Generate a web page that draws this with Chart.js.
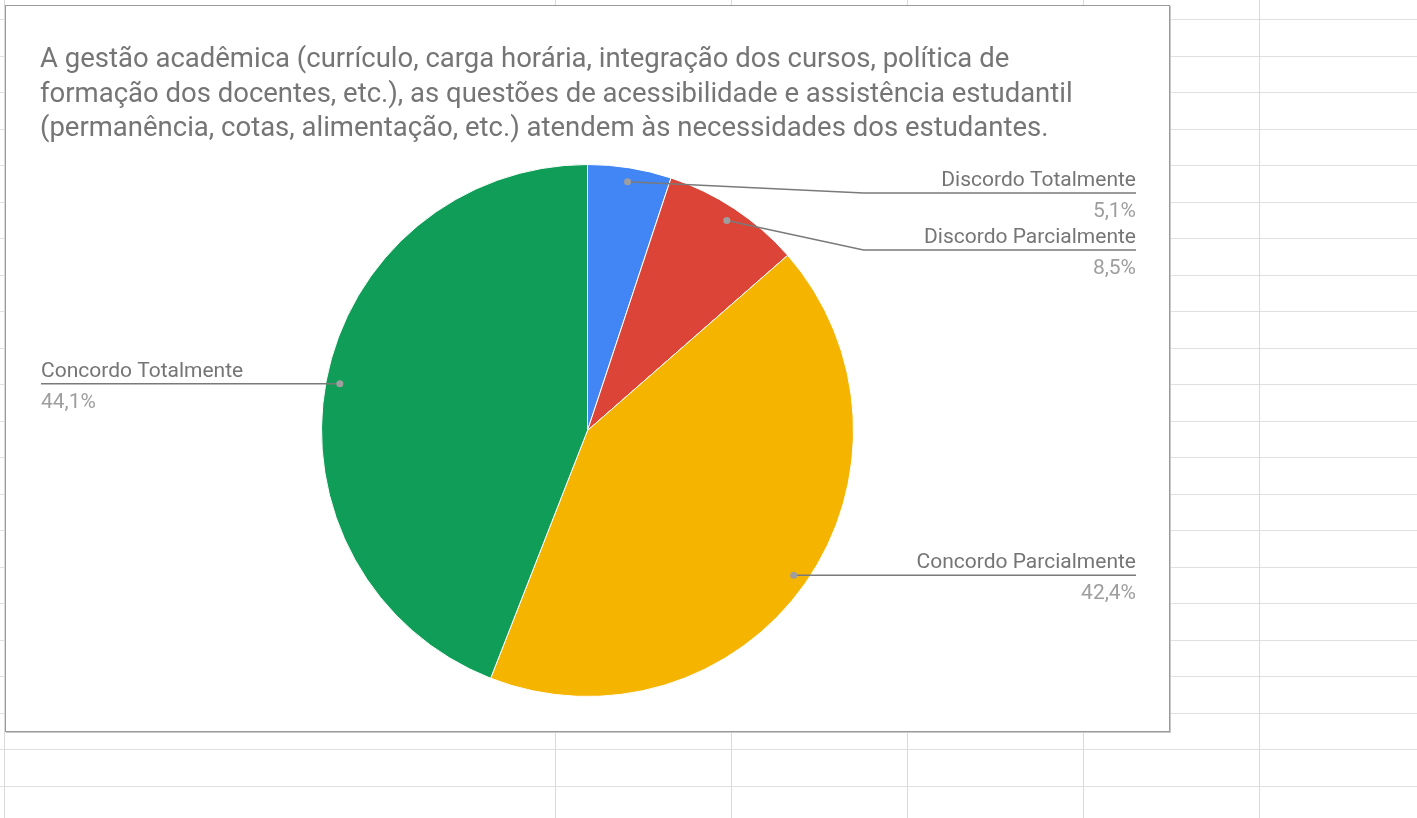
<!DOCTYPE html>
<html>
<head>
<meta charset="utf-8">
<script src="https://cdn.jsdelivr.net/npm/chart.js@4/dist/chart.umd.min.js"></script>
<style>
  html, body { margin: 0; padding: 0; background: #fff; }
  body { width: 1417px; height: 818px; position: relative; overflow: hidden; font-family: Roboto, sans-serif; }
  .hline { position: absolute; left: 0; width: 1417px; height: 1px; background: #e0e0e0; }
  .vline { position: absolute; top: 0; height: 818px; width: 1px; background: #dadada; }
  #box { position: absolute; left: 5px; top: 5px; width: 1163px; height: 725px;
         border: 1px solid #9a9a9a; box-shadow: 1px 1px 0 #c8c8c8; background: #fff; }
  #box canvas { display: block; }
</style>
</head>
<body>
<div id="box"><canvas id="pie" width="1163" height="725"></canvas></div>
<script>
// data
var titleLines = [
  'A gestão acadêmica (currículo, carga horária, integração dos cursos, política de',
  'formação dos docentes, etc.), as questões de acessibilidade e assistência estudantil',
  '(permanência, cotas, alimentação, etc.) atendem às necessidades dos estudantes.'
];
var categories = ['Discordo Totalmente', 'Discordo Parcialmente', 'Concordo Parcialmente', 'Concordo Totalmente'];
var counts = [3, 5, 25, 26];
var sliceColors = ['#4285F4', '#DB4437', '#F4B400', '#0F9D58'];

// spreadsheet grid behind the chart
[4, 555, 731, 907, 1083, 1259].forEach(function (x) {
  var d = document.createElement('div');
  d.className = 'vline';
  d.style.left = x + 'px';
  document.body.insertBefore(d, document.body.firstChild);
});
for (var y = 19; y < 818; y += 36.5) {
  var h = document.createElement('div');
  h.className = 'hline';
  h.style.top = Math.round(y) + 'px';
  document.body.insertBefore(h, document.body.firstChild);
}

function pct(v) {
  var total = counts.reduce(function (a, b) { return a + b; }, 0);
  return (v / total * 100).toFixed(1).replace('.', ',') + '%';
}

// leader-line labels like google sheets
var calloutPlugin = {
  id: 'callouts',
  afterDatasetsDraw: function (chart) {
    var ctx = chart.ctx;
    var area = chart.chartArea;
    var arcs = chart.getDatasetMeta(0).data;
    var right = [], left = [];
    arcs.forEach(function (arc, i) {
      var p = arc.getProps(['x', 'y', 'startAngle', 'endAngle', 'outerRadius'], true);
      var mid = (p.startAngle + p.endAngle) / 2;
      var r = p.outerRadius - 14;
      var item = {
        i: i, cx: p.x, R: p.outerRadius,
        dx: p.x + Math.cos(mid) * r,
        dy: p.y + Math.sin(mid) * r
      };
      (Math.cos(mid) >= 0 ? right : left).push(item);
    });

    var prev = -Infinity;
    right.sort(function (a, b) { return a.dy - b.dy; });
    right.forEach(function (it) {
      it.ly = Math.max(it.dy, area.top + 29, prev + 57);
      prev = it.ly;
    });
    left.forEach(function (it) { it.ly = it.dy; });

    ctx.save();
    ctx.lineWidth = 1.5;
    ctx.strokeStyle = '#7a7a7a';
    ctx.font = '21px Roboto';
    ctx.textBaseline = 'alphabetic';

    right.forEach(function (it) {
      var xEnd = area.right + 1;
      var elbow = it.cx + it.R + 10;
      ctx.beginPath();
      ctx.moveTo(it.dx, it.dy);
      if (Math.abs(it.ly - it.dy) > 0.5) ctx.lineTo(elbow, it.ly);
      ctx.lineTo(xEnd, it.ly);
      ctx.stroke();
      ctx.textAlign = 'right';
      ctx.fillStyle = '#757575';
      ctx.fillText(categories[it.i], xEnd, it.ly - 7);
      ctx.fillStyle = '#9e9e9e';
      ctx.fillText(pct(counts[it.i]), xEnd, it.ly + 24);
    });

    left.forEach(function (it) {
      var xStart = area.left + 1;
      ctx.beginPath();
      ctx.moveTo(xStart, it.ly);
      ctx.lineTo(it.dx, it.ly);
      ctx.stroke();
      ctx.textAlign = 'left';
      ctx.fillStyle = '#757575';
      ctx.fillText(categories[it.i], xStart, it.ly - 7);
      ctx.fillStyle = '#9e9e9e';
      ctx.fillText(pct(counts[it.i]), xStart, it.ly + 24);
    });

    // dots on top
    right.concat(left).forEach(function (it) {
      ctx.beginPath();
      ctx.fillStyle = '#9e9e9e';
      ctx.arc(it.dx, it.dy, 3.5, 0, Math.PI * 2);
      ctx.fill();
    });
    ctx.restore();
  }
};

new Chart(document.getElementById('pie'), {
  type: 'pie',
  data: {
    labels: categories,
    datasets: [{
      data: counts,
      backgroundColor: sliceColors,
      borderColor: '#ffffff',
      borderWidth: 1
    }]
  },
  options: {
    responsive: false,
    animation: false,
    layout: { padding: { left: 34, right: 34, top: 0, bottom: 34 } },
    plugins: {
      legend: { display: false },
      tooltip: { enabled: false },
      title: {
        display: true,
        text: titleLines,
        align: 'start',
        color: '#757575',
        font: { family: 'Roboto', size: 27.5, weight: 'normal', lineHeight: '34.5px' },
        padding: { top: 37, bottom: 17.5 }
      }
    }
  },
  plugins: [calloutPlugin]
});
</script>
</body>
</html>
